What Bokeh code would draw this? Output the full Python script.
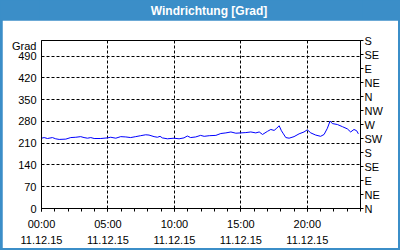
from bokeh.plotting import figure
from bokeh.models import FixedTicker, LinearAxis, Range1d
from bokeh.layouts import column
from bokeh.embed import file_html
from bokeh.resources import INLINE
from bokeh.core.properties import value

title_text = "Windrichtung [Grad]"
y_label = "Grad"

hours = [0.0, 0.2, 0.45, 0.82, 1.07, 1.33, 1.83, 2.2, 2.58, 2.95, 3.2, 3.46, 3.71, 3.96,
         4.46, 4.96, 5.21, 5.59, 5.96, 6.34, 6.71, 7.09, 7.46, 7.84, 8.09, 8.47, 8.72,
         8.92, 9.09, 9.47, 9.97, 10.35, 10.72, 10.97, 11.22, 11.6, 11.97, 12.24, 12.62,
         13.12, 13.49, 13.87, 14.25, 14.62, 15.0, 15.37, 15.75, 16.12, 16.38, 16.63,
         17.0, 17.25, 17.5, 17.7, 17.88, 18.05, 18.2, 18.38, 18.63, 19.0, 19.38, 19.75,
         20.0, 20.26, 20.63, 21.0, 21.26, 21.51, 21.71, 21.88, 22.26, 22.64, 23.01,
         23.26, 23.51, 23.71, 23.84]
direction = [226, 228, 225, 228, 224, 222, 223, 228, 229, 231, 228, 226, 228, 225,
             225, 227, 229, 226, 231, 230, 228, 231, 234, 237, 236, 231, 229,
             232, 227, 224, 226, 224, 227, 233, 228, 230, 235, 232, 234,
             235, 241, 243, 246, 242, 243, 244, 246, 243, 246, 238,
             248, 254, 251, 258, 266, 250, 240, 228, 226, 231, 240, 246,
             253, 243, 236, 232, 238, 258, 281, 273, 270, 263, 256,
             246, 254, 250, 240]

left_ticks = [0, 70, 140, 210, 280, 350, 420, 490]
compass_ticks = [0, 45, 90, 135, 180, 225, 270, 315, 360, 405, 450, 495, 540]
compass_labels = ["N", "NE", "E", "SE", "S", "SW", "W", "NW", "N", "NE", "E", "SE", "S"]
time_ticks = [0, 5, 10, 15, 20]
time_labels = ["00:00\n11.12.15", "05:00\n11.12.15", "10:00\n11.12.15",
               "15:00\n11.12.15", "20:00\n11.12.15"]
minor_hours = list(range(0, 25))

BLUE = "#3b8ec8"
FONT = "Liberation Sans"
Y_MAX = 540

head = figure(width=400, height=20, x_range=(0, 400), y_range=(0, 20),
              toolbar_location=None, output_backend="svg", min_border=0,
              x_axis_type=None, y_axis_type=None,
              background_fill_color=BLUE, border_fill_color=BLUE, outline_line_color=None)
head.grid.visible = False
head.text(x=[210], y=[10], text=[title_text], text_align="center", text_baseline="middle",
          text_color="white", text_font=value(FONT), text_font_size="12px",
          text_font_style="bold")

p = figure(width=396, height=228, margin=(0, 2, 2, 2),
           x_range=Range1d(0, 24), y_range=Range1d(0, Y_MAX),
           toolbar_location=None, output_backend="svg",
           min_border_left=39, min_border_right=38, min_border_top=20, min_border_bottom=37,
           background_fill_color="white", border_fill_color="white",
           outline_line_color="black", outline_line_width=1)

p.line(hours, direction, line_color="#0000ff", line_width=1)

# x axis
p.xaxis.ticker = FixedTicker(ticks=time_ticks, minor_ticks=minor_hours)
p.xaxis.major_label_overrides = dict(zip(time_ticks, time_labels))
p.xaxis.major_tick_out = 3
p.xaxis.major_tick_in = 0
p.xaxis.minor_tick_out = 3
p.xaxis.minor_tick_in = 0
p.xaxis.major_label_standoff = 6
p.xaxis.major_label_text_line_height = 1.35

# left y axis; the unit caption "Grad" sits just below the top of the axis
unit_pos = Y_MAX - 19
p.yaxis.ticker = FixedTicker(ticks=left_ticks + [unit_pos])
p.yaxis.major_label_overrides = {unit_pos: y_label}
p.yaxis.major_tick_out = 0
p.yaxis.major_tick_in = 0
p.yaxis.minor_tick_line_color = None
p.yaxis.major_label_standoff = 5

# right compass axis
raxis = LinearAxis(ticker=FixedTicker(ticks=compass_ticks),
                   major_label_overrides=dict(zip(compass_ticks, compass_labels)))
raxis.major_tick_out = 3
raxis.major_tick_in = 0
raxis.minor_tick_line_color = None
raxis.major_label_standoff = 1
p.add_layout(raxis, "right")

for ax in p.axis:
    ax.axis_line_color = "black"
    ax.major_tick_line_color = "black"
    ax.major_label_text_font = FONT
    ax.major_label_text_font_size = "11px"
    ax.major_label_text_color = "black"
p.xaxis.minor_tick_line_color = "black"

for g, t in ((p.xgrid, time_ticks), (p.ygrid, left_ticks)):
    g.ticker = FixedTicker(ticks=t)
    g.grid_line_color = "black"
    g.grid_line_dash = "3 2"
    g.grid_line_width = 1

layout = column(head, p, spacing=0, styles={"background-color": BLUE})

open("out.html", "w").write(file_html(layout, INLINE))
